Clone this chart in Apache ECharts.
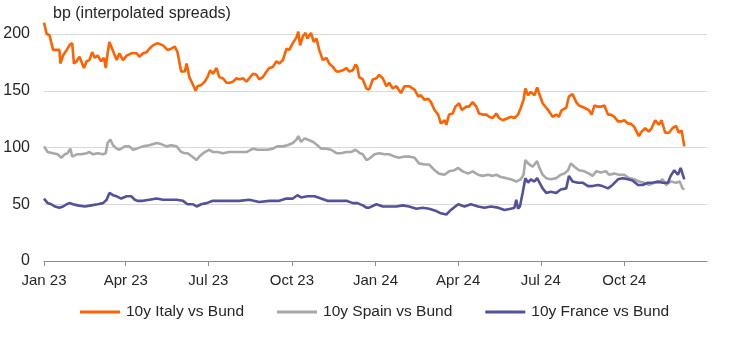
<!DOCTYPE html>
<html><head><meta charset="utf-8">
<script src="https://cdn.jsdelivr.net/npm/echarts@6/dist/echarts.min.js"></script>
<style>html,body{margin:0;padding:0;background:#fff}#c{width:742px;height:341px}</style>
</head><body><div id="c"></div>
<script>
// Day offsets are days since 2023-01-01
const seriesNames = ['10y Italy vs Bund', '10y Spain vs Bund', '10y France vs Bund'];
const seriesColors = ['#FF6200', '#A8A8A8', '#525199'];

const italyDays = [0,3,6,10,14,17,18,21,25,28,31,33,36,39,41,44,47,50,53,56,59,63,66,68,70,72,74,77,80,83,87,91,96,102,105,109,113,116,120,125,131,136,140,144,147,151,155,157,160,163,167,169,173,177,180,183,186,190,193,197,201,204,208,212,215,219,223,226,230,234,237,241,245,248,252,256,259,263,267,270,274,278,280,282,285,288,290,294,297,300,303,307,311,314,318,322,325,329,333,336,340,343,345,347,351,355,358,362,366,369,373,377,380,384,388,393,397,402,408,412,415,419,423,426,430,434,437,441,443,446,450,453,457,460,465,468,472,476,479,483,487,490,494,498,501,505,511,514,518,522,525,528,530,533,536,540,543,545,549,553,556,560,564,567,570,575,578,582,586,589,595,600,603,606,610,613,617,621,624,628,632,635,639,643,646,650,655,658,662,666,669,673,677,680,684,688,692,696,699,702,705];
const italyValues = [210,200,199,186,186,186,174,181,186,190,192,174,176,180,176,170,176,177,184,179,181,176,179,170,183,193,189,183,177,183,177,181,183,183,180,183,184,187,190,192,190,186,187,189,184,167,167,174,162,157,150,154,155,158,162,168,165,170,162,161,157,157,158,161,160,161,158,161,165,164,160,162,167,170,171,176,174,177,187,186,192,197,202,190,198,201,196,201,193,196,186,177,179,174,171,167,167,168,170,167,168,173,171,162,160,152,151,160,161,164,161,154,157,152,154,148,154,154,151,145,146,142,143,140,133,129,121,124,120,129,130,136,139,133,136,136,140,136,130,129,129,127,126,130,126,124,126,127,126,129,135,142,152,146,149,146,153,148,139,135,132,127,129,127,133,135,145,147,140,137,135,133,129,137,136,136,137,129,129,127,123,123,124,121,121,118,110,114,117,114,117,124,120,124,113,113,117,119,113,115,101];

const spainDays = [0,4,10,15,19,23,26,29,31,36,41,47,50,54,59,65,68,70,73,76,80,83,89,94,98,102,109,116,124,129,135,140,146,151,155,158,163,168,171,177,182,186,191,197,204,212,217,223,230,235,241,246,252,257,263,268,274,278,280,283,287,290,296,301,305,311,316,322,327,333,338,343,345,348,351,355,358,364,369,375,380,386,391,397,402,408,413,419,424,430,435,441,446,452,456,461,467,472,478,483,489,494,498,503,509,514,520,525,528,530,533,538,543,545,549,553,558,564,569,573,577,580,584,589,595,600,604,608,613,619,622,628,633,639,644,650,655,661,666,672,677,681,685,690,696,700,703,705];
const spainValues = [101,96,95,94,91,94,95,99,92,94,94,95,96,94,95,94,95,104,107,102,99,98,101,101,98,99,101,102,104,103,101,102,101,96,95,95,92,89,92,96,98,96,96,95,96,96,96,96,99,98,98,98,99,101,101,102,104,107,110,105,108,107,105,102,99,99,98,95,95,96,96,98,99,95,94,89,90,94,95,94,94,92,91,92,92,91,86,85,85,80,77,76,79,80,82,79,77,79,76,75,76,75,76,74,73,72,70,72,76,89,86,83,88,83,76,73,72,73,76,77,80,86,83,80,79,77,75,79,78,79,76,77,76,76,73,72,70,69,67,69,69,72,67,70,69,70,64,63];

const franceDays = [0,4,8,12,17,21,25,28,32,37,45,52,59,65,69,72,76,80,85,91,96,100,103,109,116,124,131,138,146,153,158,164,168,173,179,186,193,204,215,226,237,248,259,267,274,279,283,290,298,305,312,322,333,340,345,351,355,358,366,373,380,388,395,402,410,417,424,432,437,443,448,456,463,470,478,485,492,500,507,514,518,520,522,524,527,530,533,536,540,543,545,549,553,558,564,569,575,578,582,588,593,599,604,610,615,621,626,632,637,643,648,654,659,665,670,676,681,687,690,694,698,701,705];
const franceValues = [55,51,50,48,47,48,50,51,50,49,48,49,50,51,54,60,58,57,55,57,57,54,53,53,54,55,54,54,54,53,50,50,48,50,51,53,53,53,53,54,52,53,53,55,55,58,56,57,57,55,53,53,53,51,51,49,47,47,50,48,48,48,49,48,46,47,46,44,42,41,45,50,48,50,48,47,48,47,45,46,47,54,46,48,60,73,69,72,70,73,70,64,60,61,60,63,64,75,70,69,69,66,66,67,66,64,67,72,73,72,71,67,67,69,69,70,69,69,75,80,76,82,72];

const tickDates = ['2023-01-01','2023-04-01','2023-07-01','2023-10-01','2024-01-01','2024-04-01','2024-07-01','2024-10-01'];
const tickLabels = ['Jan 23','Apr 23','Jul 23','Oct 23','Jan 24','Apr 24','Jul 24','Oct 24'];
const yMin = 0, yMax = 200, yStep = 50;
const xStart = '2023-01-01', xEnd = '2024-12-31';

function parseDay(s){ const p = s.split('-').map(Number); return Date.UTC(p[0], p[1]-1, p[2]); }
function dayToTime(d){ return Date.UTC(2023, 0, 1 + d); }
const tickTimes = tickDates.map(parseDay);
function pairs(days, vals){ return days.map((d,i)=>[dayToTime(d), vals[i]]); }
const allDays = [italyDays, spainDays, franceDays];
const allVals = [italyValues, spainValues, franceValues];

const FONT = '"Liberation Sans", Arial, sans-serif';
const TXT = '#262626';
const chart = echarts.init(document.getElementById('c'), null, {renderer:'canvas'});
chart.setOption({
  animation: false,
  backgroundColor: '#fff',
  textStyle: {fontFamily: FONT},
  title: {text: 'bp (interpolated spreads)', left: 48, top: 1,
    textStyle: {fontSize: 16, fontWeight: 'normal', color: TXT, fontFamily: FONT}},
  grid: {left: 44, right: 35, top: 34, bottom: 80, containLabel: false},
  legend: {left: 80, top: 304, icon: 'rect', itemWidth: 40, itemHeight: 3, itemGap: 33,
    padding: 0, data: seriesNames,
    textStyle: {fontSize: 15.5, color: TXT, fontFamily: FONT, padding: [0,0,0,1]}},
  xAxis: {type: 'value', min: parseDay(xStart), max: parseDay(xEnd),
    axisLine: {lineStyle: {color: '#8c8c8c', width: 1}},
    axisTick: {show: true, length: 5, lineStyle: {color: '#8c8c8c'}, customValues: tickTimes},
    axisLabel: {customValues: tickTimes, fontSize: 15, color: TXT, margin: 12, fontFamily: FONT,
      formatter: function(v){ const i = tickTimes.indexOf(v); return i >= 0 ? tickLabels[i] : ''; }},
    splitLine: {show: false}},
  yAxis: {type: 'value', min: yMin, max: yMax, interval: yStep,
    axisLine: {show: false}, axisTick: {show: false},
    axisLabel: {fontSize: 16, color: TXT, margin: 14, fontFamily: FONT},
    splitLine: {lineStyle: {color: '#d9d9d9', width: 1}}},
  series: seriesNames.map((n, k) => ({
    name: n, type: 'line', data: pairs(allDays[k], allVals[k]),
    showSymbol: false, symbol: 'none', clip: false,
    color: seriesColors[k],
    lineStyle: {width: 2.6, color: seriesColors[k]},
    itemStyle: {color: seriesColors[k]}
  }))
});
</script></body></html>
